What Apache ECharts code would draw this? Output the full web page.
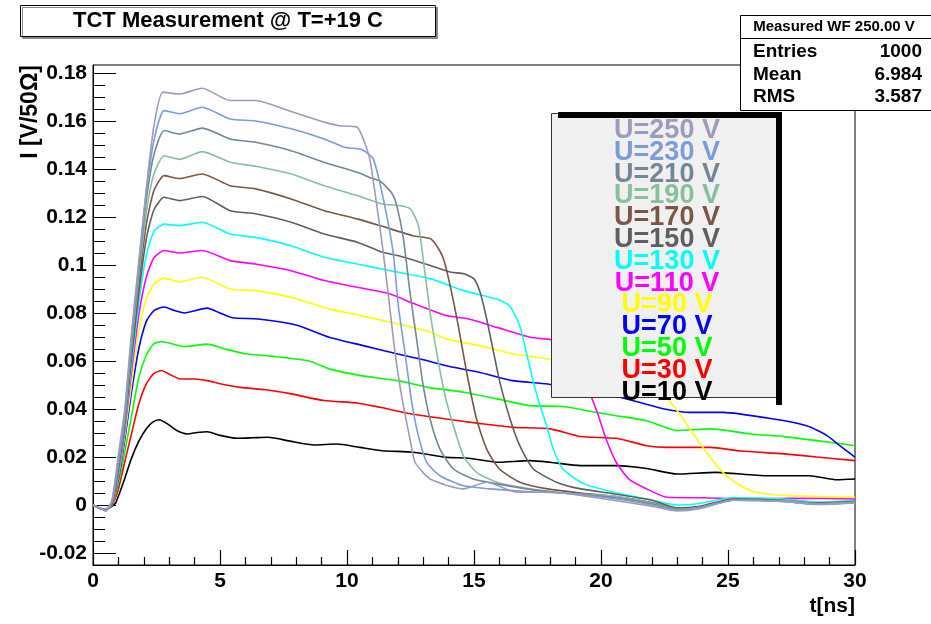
<!DOCTYPE html>
<html>
<head>
<meta charset="utf-8">
<script src="https://cdn.jsdelivr.net/npm/echarts@6/dist/echarts.min.js"></script>
<style>html,body{margin:0;padding:0;background:#fff}#c{width:931px;height:624px}</style>
</head>
<body>
<div id="c"></div>
<script>
// ---- data (t [ns], I [V/50Ohm]) ----
const seriesNames = ['U=10 V','U=30 V','U=50 V','U=70 V','U=90 V','U=110 V','U=130 V','U=150 V','U=170 V','U=190 V','U=210 V','U=230 V','U=250 V'];
const legendOrder = ['U=250 V','U=230 V','U=210 V','U=190 V','U=170 V','U=150 V','U=130 V','U=110 V','U=90 V','U=70 V','U=50 V','U=30 V','U=10 V'];
const yMajorTicks = [-0.02,0,0.02,0.04,0.06,0.08,0.1,0.12,0.14,0.16,0.18];
const yMinorTicks = [-0.025,-0.015,-0.01,-0.005,0.005,0.01,0.015,0.025,0.03,0.035,0.045,0.05,0.055,0.065,0.07,0.075,0.085,0.09,0.095,0.105,0.11,0.115,0.125,0.13,0.135,0.145,0.15,0.155,0.165,0.17,0.175];
const statsLabels = ['Entries','Mean','RMS'];
const statsValues = ['1000','6.984','3.587'];

const u10 = [[0,0],[0.3,-0.0015],[0.5,-0.002],[0.75,-0.0005],[0.9,0.001],[1.2,0.0095],[1.5,0.019],[1.8,0.0265],[2.1,0.0318],[2.35,0.0345],[2.6,0.0355],[2.9,0.034],[3.3,0.031],[3.7,0.0296],[4.1,0.0302],[4.5,0.0305],[5.0,0.029],[5.7,0.0278],[6.3,0.028],[6.9,0.0282],[7.8,0.0265],[8.7,0.025],[9.6,0.0254],[10.5,0.024],[11.4,0.0226],[12.6,0.022],[13.9,0.0199],[14.8,0.0195],[15.9,0.0178],[17.2,0.0185],[18.0,0.0178],[19.2,0.0164],[20.6,0.0164],[21.8,0.0152],[23.0,0.0129],[24.5,0.0136],[26.5,0.0122],[28.2,0.0122],[29.3,0.0105],[30,0.0108]];
const u30 = [[0,0],[0.3,-0.0015],[0.5,-0.002],[0.75,0],[1.0,0.0067],[1.25,0.018],[1.5,0.029],[1.8,0.042],[2.1,0.0505],[2.4,0.0548],[2.7,0.056],[3.0,0.0545],[3.45,0.0525],[4.0,0.0525],[4.5,0.0518],[5.0,0.0505],[5.8,0.049],[6.8,0.048],[7.8,0.0463],[9.1,0.0435],[10.4,0.0425],[11.3,0.0407],[12.5,0.038],[13.9,0.0358],[15.2,0.034],[16.5,0.0324],[18.0,0.0317],[19.2,0.0285],[20.6,0.0278],[21.8,0.0247],[22.6,0.024],[24.3,0.024],[25.5,0.0225],[27.2,0.0213],[28.5,0.02],[30,0.0185]];
const u50 = [[0,0],[0.3,-0.0015],[0.5,-0.002],[0.75,0],[1.0,0.009],[1.25,0.022],[1.5,0.036],[1.8,0.053],[2.1,0.0625],[2.4,0.0672],[2.7,0.068],[3.0,0.0675],[3.6,0.066],[4.5,0.067],[5.2,0.065],[6.0,0.063],[7.0,0.062],[8.5,0.060],[9.3,0.0567],[10.5,0.054],[12.0,0.0518],[13.2,0.049],[14.6,0.047],[15.9,0.0442],[17.2,0.0414],[18.5,0.041],[19.8,0.0386],[20.6,0.0372],[21.8,0.0351],[23.0,0.031],[24.3,0.0317],[25.9,0.0296],[27.2,0.0285],[28.5,0.0268],[30,0.0247]];
const u70 = [[0,0],[0.3,-0.0015],[0.5,-0.002],[0.75,0.0005],[1.0,0.011],[1.25,0.027],[1.5,0.046],[1.8,0.065],[2.1,0.0765],[2.4,0.081],[2.8,0.0825],[3.2,0.081],[3.6,0.080],[4.5,0.082],[5.0,0.080],[5.5,0.078],[6.5,0.0775],[8.0,0.075],[9.3,0.0699],[10.6,0.0665],[12.0,0.0629],[13.0,0.0605],[13.9,0.058],[15.2,0.0553],[16.5,0.0518],[17.9,0.0504],[19.2,0.0476],[20.5,0.0455],[21.5,0.0428],[22.5,0.040],[23.5,0.0386],[24.8,0.0386],[26.8,0.0358],[28.1,0.033],[28.9,0.0289],[29.4,0.0247],[30,0.0199]];
const u90 = [[0,0],[0.3,-0.0015],[0.5,-0.002],[0.75,0.0005],[1.0,0.012],[1.25,0.029],[1.5,0.049],[1.8,0.072],[2.1,0.086],[2.4,0.092],[2.8,0.0945],[3.4,0.093],[4.3,0.0949],[5.4,0.090],[6.4,0.0893],[7.8,0.0865],[9.3,0.0817],[10.5,0.079],[12.0,0.0754],[13.3,0.072],[13.9,0.0692],[15.2,0.0664],[16.6,0.0629],[17.9,0.0608],[19.8,0.0567],[20.6,0.0553],[21.5,0.052],[22.1,0.0497],[22.85,0.0414],[23.5,0.0317],[24.15,0.022],[24.8,0.0136],[25.5,0.008],[26.1,0.0053],[27.4,0.0039],[30,0.0032]];
const u110 = [[0,0],[0.3,-0.0015],[0.5,-0.002],[0.75,0.0005],[1.0,0.013],[1.25,0.031],[1.5,0.054],[1.8,0.079],[2.1,0.095],[2.4,0.103],[2.8,0.106],[3.4,0.105],[4.3,0.106],[5.4,0.1018],[6.4,0.1004],[7.8,0.0976],[9.1,0.0935],[10.4,0.0907],[11.7,0.0879],[12.6,0.084],[13.9,0.0789],[14.8,0.0775],[15.9,0.074],[17.2,0.0699],[18.25,0.0685],[18.8,0.065],[19.1,0.0595],[19.45,0.0497],[19.85,0.0386],[20.2,0.0275],[20.6,0.0178],[21.1,0.0108],[21.8,0.0067],[22.6,0.0032],[24.0,0.003],[25.9,0.0025],[27.5,0.0028],[30,0.0025]];
const u130 = [[0,0],[0.3,-0.0015],[0.5,-0.002],[0.75,0.001],[1.0,0.014],[1.25,0.033],[1.5,0.057],[1.8,0.084],[2.1,0.104],[2.4,0.114],[2.8,0.117],[3.4,0.1164],[4.3,0.1178],[5.4,0.1129],[6.4,0.1115],[7.8,0.108],[9.1,0.1032],[10.4,0.1004],[11.7,0.0976],[13.3,0.0942],[14.6,0.0893],[15.9,0.0858],[16.4,0.083],[16.8,0.0747],[17.06,0.0636],[17.34,0.0511],[17.6,0.0414],[17.86,0.033],[18.12,0.0233],[18.5,0.015],[19.3,0.009],[20.5,0.0053],[21.8,0.0025],[23.0,0.0],[23.8,0.0005],[25.2,0.003],[27.2,0.0025],[28.5,0.0012],[30,0.0018]];
const u150 = [[0,0],[0.3,-0.0015],[0.5,-0.002],[0.75,0.001],[1.0,0.015],[1.25,0.034],[1.5,0.060],[1.8,0.088],[2.1,0.111],[2.4,0.123],[2.8,0.1282],[3.4,0.1268],[4.3,0.1285],[5.4,0.1226],[6.4,0.1213],[7.8,0.1178],[9.1,0.1129],[10.4,0.1095],[11.4,0.1053],[12.0,0.1039],[13.3,0.0997],[14.1,0.097],[14.6,0.0963],[15.0,0.0942],[15.24,0.0886],[15.5,0.0775],[15.77,0.0636],[16.02,0.0511],[16.42,0.0358],[16.8,0.0247],[17.34,0.015],[18.25,0.0095],[19.2,0.0067],[20.6,0.0045],[22.0,0.002],[23.0,-0.0012],[23.9,-0.0005],[25.2,0.0025],[27.2,0.002],[28.5,0.0008],[30,0.0015]];
const u170 = [[0,0],[0.3,-0.0015],[0.5,-0.002],[0.75,0.001],[1.0,0.016],[1.25,0.035],[1.5,0.062],[1.8,0.092],[2.1,0.117],[2.4,0.131],[2.8,0.1372],[3.4,0.136],[4.3,0.1379],[5.4,0.133],[6.4,0.1317],[7.8,0.1275],[9.1,0.1226],[10.4,0.1192],[11.3,0.1164],[12.6,0.1122],[13.27,0.111],[13.53,0.108],[13.8,0.1025],[14.06,0.0914],[14.38,0.0747],[14.71,0.0553],[15.1,0.0358],[15.5,0.0233],[16.0,0.015],[16.8,0.0095],[17.9,0.0067],[19.2,0.005],[20.6,0.0035],[22.0,0.001],[23.0,-0.0015],[23.9,-0.0008],[25.2,0.0022],[27.2,0.0018],[28.5,0.0006],[30,0.0012]];
const u190 = [[0,0],[0.3,-0.0015],[0.5,-0.002],[0.75,0.0015],[1.0,0.017],[1.25,0.036],[1.5,0.064],[1.8,0.095],[2.1,0.122],[2.4,0.138],[2.8,0.1455],[3.4,0.144],[4.3,0.1472],[5.4,0.1428],[6.4,0.1411],[7.8,0.1379],[9.1,0.133],[10.4,0.1289],[11.4,0.1254],[12.1,0.1247],[12.5,0.1233],[12.81,0.1164],[13.0,0.1025],[13.27,0.0803],[13.53,0.0636],[13.86,0.0455],[14.19,0.033],[14.58,0.0205],[15.1,0.0136],[15.9,0.0095],[17.2,0.0067],[18.5,0.005],[20.6,0.0035],[22.0,0.0008],[23.0,-0.0018],[23.9,-0.001],[25.2,0.002],[27.2,0.0018],[28.5,0.0005],[30,0.0012]];
const u210 = [[0,0],[0.3,-0.0015],[0.5,-0.002],[0.75,0.0015],[1.0,0.018],[1.25,0.037],[1.5,0.066],[1.8,0.098],[2.1,0.127],[2.4,0.146],[2.8,0.156],[3.4,0.1545],[4.3,0.157],[5.4,0.1525],[6.4,0.1511],[7.8,0.1476],[9.1,0.1428],[10.4,0.1386],[11.0,0.136],[11.3,0.135],[11.76,0.130],[11.96,0.1247],[12.22,0.111],[12.48,0.0886],[12.74,0.0692],[13.0,0.0497],[13.27,0.0358],[13.66,0.0233],[14.19,0.015],[14.97,0.0108],[15.9,0.0088],[17.2,0.0065],[18.5,0.005],[20.6,0.003],[22.0,0.0005],[23.0,-0.002],[23.9,-0.001],[25.2,0.002],[27.2,0.0015],[28.5,0.0003],[30,0.001]];
const u230 = [[0,0],[0.3,-0.0015],[0.5,-0.0025],[0.75,0.002],[1.0,0.019],[1.25,0.038],[1.5,0.068],[1.8,0.100],[2.1,0.130],[2.4,0.152],[2.8,0.1643],[3.4,0.163],[4.3,0.1657],[5.4,0.1608],[6.4,0.160],[7.8,0.1567],[9.1,0.1525],[9.9,0.149],[10.6,0.148],[11.04,0.144],[11.43,0.1275],[11.82,0.105],[12.02,0.083],[12.28,0.0636],[12.55,0.0428],[12.81,0.0289],[13.14,0.0178],[13.66,0.0122],[14.58,0.008],[15.63,0.0067],[17.2,0.0055],[18.5,0.005],[20.6,0.0025],[22.0,0.0],[23.0,-0.0022],[23.9,-0.0012],[25.2,0.002],[27.2,0.0015],[28.5,0.0003],[30,0.001]];
const u250 = [[0,0],[0.3,-0.0015],[0.5,-0.0025],[0.75,0.002],[1.0,0.021],[1.25,0.040],[1.5,0.070],[1.8,0.101],[2.1,0.132],[2.4,0.158],[2.75,0.172],[3.4,0.1712],[4.3,0.1736],[5.4,0.1685],[6.4,0.1685],[7.8,0.1639],[9.1,0.1595],[9.7,0.158],[10.4,0.1574],[10.64,0.1525],[10.9,0.144],[11.17,0.125],[11.43,0.105],[11.69,0.0817],[11.89,0.0636],[12.15,0.0455],[12.48,0.0275],[12.68,0.0178],[13.27,0.0108],[14.58,0.0067],[15.5,0.0095],[16.7,0.0053],[18.0,0.0053],[20.6,0.0018],[22.0,-0.0005],[23.0,-0.0025],[23.9,-0.0015],[25.2,0.002],[27.2,0.0015],[28.5,0.0002],[30,0.001]];

const seriesData = [u10,u30,u50,u70,u90,u110,u130,u150,u170,u190,u210,u230,u250];
const lineColors = ['#000000','#ff0000','#00ff00','#0000ff','#ffff00','#ff00ff','#00ffff','#5f5f5f','#7a5646','#88bf9c','#748797','#7b9cdb','#9c9bbb'];

// ---- chart ----
const FONT = "'Liberation Sans', Arial, Helvetica, sans-serif";
const chart = echarts.init(document.getElementById('c'), null, {renderer: 'canvas'});
const colorByName = {};
seriesNames.forEach((n, i) => colorByName[n] = lineColors[i]);

const yMin = -0.025, yMax = 0.1833;
const option = {
  animation: false,
  backgroundColor: '#ffffff',
  title: {
    text: 'TCT Measurement @ T=+19 C',
    left: 20, top: 5,
    padding: [5, 53],
    borderColor: '#000', borderWidth: 1, backgroundColor: '#fff',
    shadowColor: '#888', shadowOffsetX: 2, shadowOffsetY: 2, shadowBlur: 0,
    textStyle: {fontFamily: FONT, fontWeight: 'bold', fontSize: 22, color: '#000'}
  },
  grid: {left: 93, right: 76, top: 65, bottom: 59, show: true, borderColor: '#000', borderWidth: 1},
  xAxis: {
    type: 'value', min: 0, max: 30, interval: 5,
    axisLine: {onZero: false, lineStyle: {color: '#000', width: 1}},
    axisTick: {show: true, inside: true, length: 15, lineStyle: {color: '#000', width: 1.2}},
    minorTick: {show: true, splitNumber: 5, length: 8, lineStyle: {color: '#000', width: 1.2}},
    axisLabel: {margin: 6, color: '#000', fontFamily: FONT, fontWeight: 'bold', fontSize: 21},
    splitLine: {show: false}
  },
  yAxis: [
    {type: 'value', min: yMin, max: yMax,
     axisLine: {show: true, onZero: false, lineStyle: {color: '#000', width: 1}},
     axisTick: {inside: true, length: 23, customValues: yMajorTicks, lineStyle: {color: '#000', width: 1}},
     axisLabel: {customValues: yMajorTicks, margin: 6, color: '#000', fontFamily: FONT, fontWeight: 'bold', fontSize: 21,
       formatter: v => String(parseFloat(Number(v).toFixed(3)))},
     splitLine: {show: false}},
    {type: 'value', min: yMin, max: yMax, position: 'left', offset: 0,
     axisLine: {show: false, onZero: false},
     axisTick: {inside: true, length: 12, customValues: yMinorTicks, lineStyle: {color: '#000', width: 1}},
     axisLabel: {show: false}, splitLine: {show: false}}
  ],
  legend: {
    orient: 'vertical', left: 592, top: 117, padding: 0, itemGap: -5.2,
    icon: 'none', itemWidth: 0, itemHeight: 10, z: 30, selectedMode: false,
    data: legendOrder.map(n => ({name: n, textStyle: {color: colorByName[n]}})),
    formatter: n => '{c|' + n + '}',
    textStyle: {fontFamily: FONT, fontWeight: 'bold', fontSize: 27, lineHeight: 22,
      rich: {c: {width: 140, align: 'center', fontFamily: FONT, fontWeight: 'bold', fontSize: 27, lineHeight: 22}}}
  },
  graphic: [
    {type: 'rect', z: 20, shape: {x: 551.5, y: 113.5, width: 226, height: 284}, style: {fill: '#f0f0f0', stroke: '#333', lineWidth: 1}},
    {type: 'rect', z: 21, shape: {x: 558, y: 112, width: 224, height: 6}, style: {fill: '#000'}},
    {type: 'rect', z: 21, shape: {x: 776, y: 112, width: 6, height: 293}, style: {fill: '#000'}},
    {type: 'rect', z: 20, shape: {x: 740.5, y: 15.5, width: 200, height: 95}, style: {fill: '#fff', stroke: '#000', lineWidth: 1}},
    {type: 'line', z: 21, shape: {x1: 740.5, y1: 38.5, x2: 931, y2: 38.5}, style: {stroke: '#000', lineWidth: 1}},
    {type: 'text', z: 22, x: 834, y: 27, style: {text: 'Measured WF 250.00 V', align: 'center', verticalAlign: 'middle', font: "bold 15px " + FONT, fill: '#000'}},
    {type: 'text', z: 22, x: 753, y: 52, style: {text: statsLabels[0], align: 'left', verticalAlign: 'middle', font: "bold 19px " + FONT, fill: '#000'}},
    {type: 'text', z: 22, x: 753, y: 75, style: {text: statsLabels[1], align: 'left', verticalAlign: 'middle', font: "bold 19px " + FONT, fill: '#000'}},
    {type: 'text', z: 22, x: 753, y: 97, style: {text: statsLabels[2], align: 'left', verticalAlign: 'middle', font: "bold 19px " + FONT, fill: '#000'}},
    {type: 'text', z: 22, x: 922, y: 52, style: {text: statsValues[0], align: 'right', verticalAlign: 'middle', font: "bold 19px " + FONT, fill: '#000'}},
    {type: 'text', z: 22, x: 922, y: 75, style: {text: statsValues[1], align: 'right', verticalAlign: 'middle', font: "bold 19px " + FONT, fill: '#000'}},
    {type: 'text', z: 22, x: 922, y: 97, style: {text: statsValues[2], align: 'right', verticalAlign: 'middle', font: "bold 19px " + FONT, fill: '#000'}},
    {type: 'text', z: 22, x: 31, y: 65, rotation: Math.PI / 2, style: {text: 'I [V/50\u03A9]', align: 'right', verticalAlign: 'middle', font: "bold 23px " + FONT, fill: '#000'}},
    {type: 'text', z: 22, x: 855, y: 606, style: {text: 't[ns]', align: 'right', verticalAlign: 'middle', font: "bold 21px " + FONT, fill: '#000'}}
  ],
  series: seriesNames.map((n, i) => ({
    name: n, type: 'line',
    data: seriesData[i], showSymbol: false, symbol: 'none',
    lineStyle: {color: lineColors[i], width: 1.6}, itemStyle: {color: lineColors[i]},
    smooth: 0.2, z: 2 + i * 0.01, emphasis: {disabled: true}
  }))
};
chart.setOption(option);
</script>
</body>
</html>
